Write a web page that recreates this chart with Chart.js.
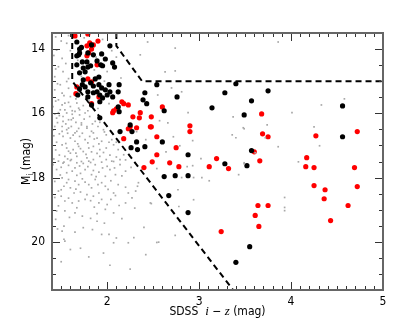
<!DOCTYPE html>
<html>
<head>
<meta charset="utf-8">
<script src="https://cdn.jsdelivr.net/npm/chart.js@4.4.1/dist/chart.umd.min.js"></script>
<style>
  html, body { margin: 0; padding: 0; background: #fff; }
  #wrap { width: 415px; height: 332px; }
</style>
</head>
<body>
<div id="wrap"><canvas id="chartScatter" width="415" height="332"></canvas></div>
<script>
// axis ranges and tick labels
const xRange = [1.4, 5];
const yRange = [13.5, 21.5];
const xTicks = [2, 3, 4, 5];
const yTicks = [14, 16, 18, 20];
const xMinorStep = 0.1;
const yMinorStep = 0.5;

// comparison sample (small grey dots)
const grayPoints = [
  [1.44,13.62],[1.58,13.58],[1.45,14.03],[1.51,14.29],[1.56,13.82],[1.47,14.55],[1.52,14.70],[1.43,14.86],
  [1.49,15.11],[1.56,15.01],[1.43,15.27],[1.51,15.37],[1.58,15.22],[1.47,15.58],[1.54,15.68],[1.60,15.48],
  [1.41,15.79],[1.49,15.89],[1.56,15.99],[1.45,16.15],[1.52,16.25],[1.61,16.20],[1.67,15.68],[1.70,15.89],
  [1.43,16.41],[1.51,16.56],[1.58,16.46],[1.65,16.61],[1.72,16.30],[1.78,16.41],[1.85,16.61],
  [1.75,13.65],[1.95,13.70],[2.05,14.05],[1.88,14.25],[1.72,14.85],[2.00,14.70],[1.97,15.00],[2.10,14.25],
  [1.80,15.60],[1.66,15.55],[2.02,15.70],[1.90,15.85],[1.68,14.35],[2.15,14.90],[1.86,14.65],
  [1.51,15.74],[1.54,15.89],[1.60,15.79],[1.65,15.94],[1.69,15.84],[1.52,16.10],[1.58,16.20],[1.63,16.15],
  [1.70,16.05],[1.76,15.99],[1.81,16.10],[1.87,16.25],[1.51,16.41],[1.56,16.51],[1.61,16.41],[1.67,16.56],
  [1.72,16.36],[1.78,16.46],[1.83,16.56],[1.90,16.41],[1.96,16.51],[1.52,16.72],[1.60,16.77],[1.65,16.87],
  [1.70,16.72],[1.76,16.82],[1.81,16.72],[1.89,16.77],[1.94,16.87],[1.99,16.67],[2.05,16.82],[1.51,16.98],
  [1.56,17.08],[1.63,17.13],[1.69,17.03],[1.74,17.19],[1.80,17.08],[1.85,17.03],[1.92,17.13],[1.99,17.08],
  [2.07,16.98],[2.12,17.13],[2.18,17.29],[1.54,17.34],[1.61,17.44],[1.67,17.34],[1.72,17.50],[1.78,17.39],
  [1.85,17.44],[1.92,17.34],[1.99,17.44],[2.07,17.50],[2.14,17.44],[1.52,17.55],[1.60,17.24],
  [1.47,17.49],[1.53,17.52],[1.60,17.47],[1.67,17.54],[1.74,17.56],[1.80,17.49],[1.87,17.60],[1.94,17.52],
  [2.00,17.65],[2.05,17.49],[2.14,17.60],[1.45,17.75],[1.56,17.85],[1.62,17.80],[1.71,17.87],[1.76,17.75],
  [1.83,17.91],[1.91,17.83],[1.98,17.96],[2.03,17.75],[2.09,17.91],[1.51,18.01],[1.58,18.06],[1.65,18.11],
  [1.76,18.14],[1.80,18.22],[1.87,18.06],[1.94,18.16],[1.98,18.27],[1.53,18.27],[1.60,18.32],[1.47,18.42],
  [1.64,18.48],[1.71,18.45],[1.78,18.53],[1.85,18.58],[1.91,18.48],[1.94,18.68],[2.07,18.48],[2.09,18.56],
  [2.23,18.48],[2.27,18.63],[2.34,18.16],[2.33,18.27],[2.31,18.42],[1.54,18.73],[1.62,18.79],[1.69,18.73],
  [1.76,18.68],[1.91,18.79],[2.00,18.84],[2.20,18.79],[1.45,19.04],[1.54,19.04],[1.65,19.10],[1.73,19.20],
  [1.89,19.12],[1.98,18.99],[2.07,19.10],[2.47,18.79],[1.44,19.30],[1.53,19.51],[1.51,19.67],[1.74,19.56],
  [1.89,19.36],[1.94,19.77],[2.02,19.77],[2.29,19.87],[1.53,19.92],[1.54,19.98],[1.60,20.24],[1.80,20.47],
  [2.07,20.03],[2.23,20.03],[2.56,20.01],[2.03,20.73],
  [1.44,15.62],[1.58,15.66],[1.62,15.92],[1.47,15.98],[1.74,15.76],[1.79,15.92],[1.43,16.02],
  [1.48,16.07],[1.55,16.33],[1.66,16.28],[1.75,16.18],[1.84,16.33],[1.46,16.29],[1.69,16.47],[1.62,16.03],
  [1.92,16.28],[1.41,16.52],[1.48,16.64],[1.57,16.62],[1.63,16.68],[1.73,16.62],[1.79,16.92],[1.86,16.80],
  [1.91,16.95],[2.02,16.90],[1.45,16.90],[1.55,16.94],[1.68,16.95],[1.97,16.58],[2.10,16.90],[1.42,16.70],
  [1.44,17.14],[1.48,17.30],[1.58,17.18],[1.66,17.24],[1.71,17.10],[1.77,17.28],[1.83,17.20],[1.89,17.25],
  [1.96,17.22],[2.03,17.30],[2.10,17.36],[1.42,17.42],[1.57,17.42],[1.82,17.53],[2.20,17.45],
  [1.41,17.60],[1.50,17.68],[1.58,17.62],[1.65,17.70],[1.70,17.64],[1.79,17.66],[1.85,17.78],[1.95,17.70],
  [2.08,17.70],[2.20,17.80],[2.26,17.68],[1.49,17.92],[1.67,17.93],[1.88,17.97],[2.16,17.95],
  [1.43,18.12],[1.56,18.16],[1.69,18.22],[1.73,18.04],[1.83,18.32],[1.90,18.22],[2.04,18.10],[2.12,18.22],
  [2.20,18.30],[1.50,18.38],[1.66,18.36],[2.01,18.37],[1.43,18.62],[1.50,18.58],[1.58,18.64],[1.82,18.72],
  [1.86,18.92],[2.04,18.68],[2.13,18.87],[1.67,18.94],[1.47,18.88],[2.30,18.95],
  [1.59,19.24],[1.82,19.27],[1.97,19.42],[2.16,19.28],[1.46,19.60],[1.65,19.70],[1.84,19.62],[2.40,19.55],
  [2.10,19.88],[1.71,20.20],[1.96,20.35],[2.42,20.40],[1.50,20.62],[2.25,20.85],
  [1.50,13.75],[1.42,14.20],[1.55,14.45],[1.44,14.62],[1.58,14.92],[1.46,15.08],[1.53,15.45],[1.60,14.05],
  [2.44,13.78],[2.74,13.97],[2.36,14.18],[2.63,14.71],[2.74,14.68],[2.70,15.21],[2.81,15.33],[2.55,15.43],
  [2.88,15.98],[2.66,16.30],[2.57,16.23],[3.37,16.11],[3.48,16.45],[3.36,16.67],[2.72,16.73],[2.32,16.57],
  [3.86,13.78],[4.58,15.55],[4.33,15.74],[4.01,15.98],[3.74,16.36],[4.25,16.42],[3.86,17.04],[4.31,17.01],
  [4.08,17.51],[3.72,16.76],[3.93,18.62],[3.93,18.93],[3.93,19.03],[2.42,16.82],[2.79,17.01],[2.93,16.85],
  [2.64,17.20],[3.02,17.41],[2.93,17.63],[3.49,16.48],[3.40,16.76],[3.49,17.57],[3.61,17.23],[2.54,17.72],
  [2.87,17.66],[2.81,18.00],[2.94,18.00],[3.03,18.00],[3.11,18.10],[2.77,18.38],[2.94,18.69],[2.78,18.90],
  [2.48,18.81],[2.74,19.80],[2.54,20.02],[3.43,17.91],[3.49,17.54]
];

// black sample
const blackPoints = [
  [2.03,13.90],[1.70,14.00],[1.83,13.87],[1.69,14.18],[1.67,14.21],[1.79,14.12],[1.85,14.18],[1.94,14.15],
  [1.98,14.31],[1.89,14.37],[1.93,14.49],[1.95,14.52],[1.73,14.40],[1.78,14.40],[1.74,14.59],[1.79,14.56],
  [1.82,14.52],[1.76,14.71],[1.70,14.74],[1.67,14.49],[2.06,14.43],[2.08,14.56],[1.91,14.87],[1.87,14.93],
  [1.82,15.05],[1.74,14.96],[1.73,15.11],[1.76,15.18],[1.85,15.15],[1.91,15.11],[1.94,15.21],[1.89,15.33],
  [1.85,15.36],[1.79,15.33],[1.92,15.43],[1.98,15.27],[2.03,15.33],[2.06,15.49],[2.13,15.11],[2.12,15.33],
  [2.02,15.11],[1.70,15.24],[1.68,15.43],[2.00,15.43],[1.95,15.52],[1.79,15.49],[1.83,15.74],[1.92,15.64],
  [2.12,15.80],[2.13,15.95],[1.92,16.14],[2.14,16.57],[2.25,16.36],[2.27,16.57],[2.32,16.89],[2.26,17.07],
  [2.33,17.13],[2.41,17.04],[2.39,15.58],[2.54,15.11],[2.41,15.36],[2.76,15.49],[2.43,15.70],[2.62,15.92],
  [3.14,15.83],[3.28,15.36],[3.40,15.08],[3.57,15.61],[3.75,15.30],[3.49,16.05],[2.60,16.89],[2.88,17.29],
  [3.28,17.57],[3.52,17.63],[3.57,17.16],[2.62,17.97],[2.74,17.94],[2.88,17.94],[2.67,18.56],[2.88,19.09],
  [3.55,20.15],[3.40,20.64],[4.56,15.77],[4.56,16.73],[1.67,13.78],[1.72,13.95],[1.70,14.12]
];

// red sample
const redPoints = [
  [1.65,13.59],[1.79,13.53],[1.81,13.81],[1.90,13.75],[1.78,13.90],[1.83,14.00],[1.85,13.87],[1.80,14.12],
  [1.78,14.21],[1.89,14.49],[1.79,14.93],[1.83,15.02],[1.67,15.18],[1.66,15.39],[1.91,15.49],[1.83,15.70],
  [2.16,15.64],[2.18,15.70],[2.23,15.74],[2.07,15.92],[2.06,15.98],[2.10,15.86],[2.28,16.11],[2.36,15.98],
  [2.35,16.14],[2.25,16.42],[2.23,16.48],[2.32,16.45],[2.18,16.79],[2.47,16.42],[2.60,15.80],[2.48,16.11],
  [2.48,16.42],[2.90,16.39],[2.90,16.57],[2.54,16.73],[2.75,17.07],[2.54,17.29],[2.49,17.51],[2.68,17.54],
  [2.78,17.66],[2.40,17.69],[3.19,17.41],[3.11,17.66],[3.32,17.72],[3.68,16.02],[3.69,16.64],[3.75,16.73],
  [3.60,17.20],[3.66,17.48],[3.64,18.87],[3.75,18.87],[3.61,19.18],[3.65,19.52],[3.24,19.68],[4.27,16.70],
  [4.72,16.57],[4.17,17.38],[4.16,17.66],[4.25,17.69],[4.69,17.69],[4.25,18.25],[4.37,18.38],[4.72,18.28],
  [4.36,18.66],[4.62,18.87],[4.43,19.34]
];

// dashed selection boundaries
const cutLeft = [[1.62,13.5],[1.62,15.0],[3.37,21.5]];
const cutTop = [[2.10,13.5],[2.10,13.9],[2.38,15.0],[5.0,15.0]];

const toXY = arr => arr.map(p => ({ x: p[0], y: p[1] }));

const sansFont = "'Liberation Sans Narrow', 'DejaVu Sans Condensed', 'Liberation Sans', sans-serif";
const serifFont = "'Liberation Serif', 'DejaVu Serif', serif";

// frame with inward ticks on all four sides, plus axis titles
const frameTicks = {
    id: "frameTicks",
    afterDatasetsDraw(chart) {
        const { ctx, chartArea: a, scales: { x, y } } = chart;
        ctx.save();
        ctx.strokeStyle = "#333";
        ctx.lineWidth = 1;
        ctx.beginPath();
        const nx = Math.round((xRange[1] - xRange[0]) / xMinorStep);
        for (let i = 0; i <= nx; i++) {
            const v = +(xRange[0] + i * xMinorStep).toFixed(2);
            const major = xTicks.includes(v);
            const len = major ? 8 : 4;
            const px = Math.round(x.getPixelForValue(v)) + 0.5;
            ctx.moveTo(px, a.bottom); ctx.lineTo(px, a.bottom - len);
            ctx.moveTo(px, a.top); ctx.lineTo(px, a.top + len);
        }
        const ny = Math.round((yRange[1] - yRange[0]) / yMinorStep);
        for (let i = 0; i <= ny; i++) {
            const v = yRange[0] + i * yMinorStep;
            const major = yTicks.includes(v);
            const len = major ? 8 : 4;
            const py = Math.round(y.getPixelForValue(v)) + 0.5;
            ctx.moveTo(a.left, py); ctx.lineTo(a.left + len, py);
            ctx.moveTo(a.right, py); ctx.lineTo(a.right - len, py);
        }
        ctx.stroke();
        ctx.strokeStyle = "#666";
        ctx.lineWidth = 2;
        ctx.strokeRect(a.left, a.top, a.right - a.left, a.bottom - a.top);

        // x title: SDSS i - z (mag), with italic band names
        ctx.fillStyle = "#000";
        ctx.textBaseline = "alphabetic";
        const parts = [
            ["SDSS  ", "12px " + sansFont],
            ["i", "italic 13px " + serifFont],
            [" \u2212 ", "12px " + sansFont],
            ["z", "italic 13px " + serifFont],
            [" (mag)", "12px " + sansFont]
        ];
        let total = 0;
        parts.forEach(p => { ctx.font = p[1]; total += ctx.measureText(p[0]).width; });
        let cx = (a.left + a.right) / 2 - total / 2;
        parts.forEach(p => {
            ctx.font = p[1];
            ctx.fillText(p[0], cx, 315);
            cx += ctx.measureText(p[0]).width;
        });

        // y title: M_i (mag), rotated
        ctx.translate(30, (a.top + a.bottom) / 2);
        ctx.rotate(-Math.PI / 2);
        const yParts = [
            ["M", "12px " + sansFont, 0],
            ["i", "8px " + sansFont, 3],
            [" (mag)", "12px " + sansFont, 0]
        ];
        total = 0;
        yParts.forEach(p => { ctx.font = p[1]; total += ctx.measureText(p[0]).width; });
        cx = -total / 2;
        yParts.forEach(p => {
            ctx.font = p[1];
            ctx.fillText(p[0], cx, p[2]);
            cx += ctx.measureText(p[0]).width;
        });
        ctx.restore();
    }
};

const dotSet = (label, data, color, radius, style) => ({
    label: label,
    data: toXY(data),
    backgroundColor: color,
    borderWidth: 0,
    pointRadius: radius,
    pointStyle: style,
    pointHoverRadius: radius
});

const lineSet = (label, data) => ({
    label: label,
    data: toXY(data),
    type: "line",
    showLine: true,
    borderColor: "#000",
    borderWidth: 2,
    borderDash: [6, 4],
    pointRadius: 0,
    fill: false,
    tension: 0
});

const ctx = document.getElementById("chartScatter").getContext("2d");
new Chart(ctx, {
    type: "scatter",
    data: {
        datasets: [
            dotSet("comparison", grayPoints, "#a8a8a8", 1.2, "rect"),
            lineSet("cut left", cutLeft),
            lineSet("cut top", cutTop),
            dotSet("black", blackPoints, "#000", 2.6, "circle"),
            dotSet("red", redPoints, "#ff0000", 2.6, "circle")
        ]
    },
    options: {
        responsive: false,
        animation: false,
        events: [],
        layout: { padding: { left: 0, top: 33, right: 32, bottom: 0 } },
        plugins: { legend: { display: false }, tooltip: { enabled: false } },
        scales: {
            x: {
                type: "linear",
                min: xRange[0],
                max: xRange[1],
                grid: { display: false, drawTicks: false },
                border: { display: false },
                afterBuildTicks: axis => { axis.ticks = xTicks.map(v => ({ value: v })); },
                afterFit: s => { s.height = 42; },
                ticks: { padding: 5, color: "#000", font: { family: sansFont, size: 12 } }
            },
            y: {
                type: "linear",
                reverse: true,
                min: yRange[0],
                max: yRange[1],
                grid: { display: false, drawTicks: false },
                border: { display: false },
                afterBuildTicks: axis => { axis.ticks = yTicks.map(v => ({ value: v })); },
                afterFit: s => { s.width = 52; },
                ticks: { padding: 7, color: "#000", font: { family: sansFont, size: 12 } }
            }
        }
    },
    plugins: [frameTicks]
});
</script>
</body>
</html>
